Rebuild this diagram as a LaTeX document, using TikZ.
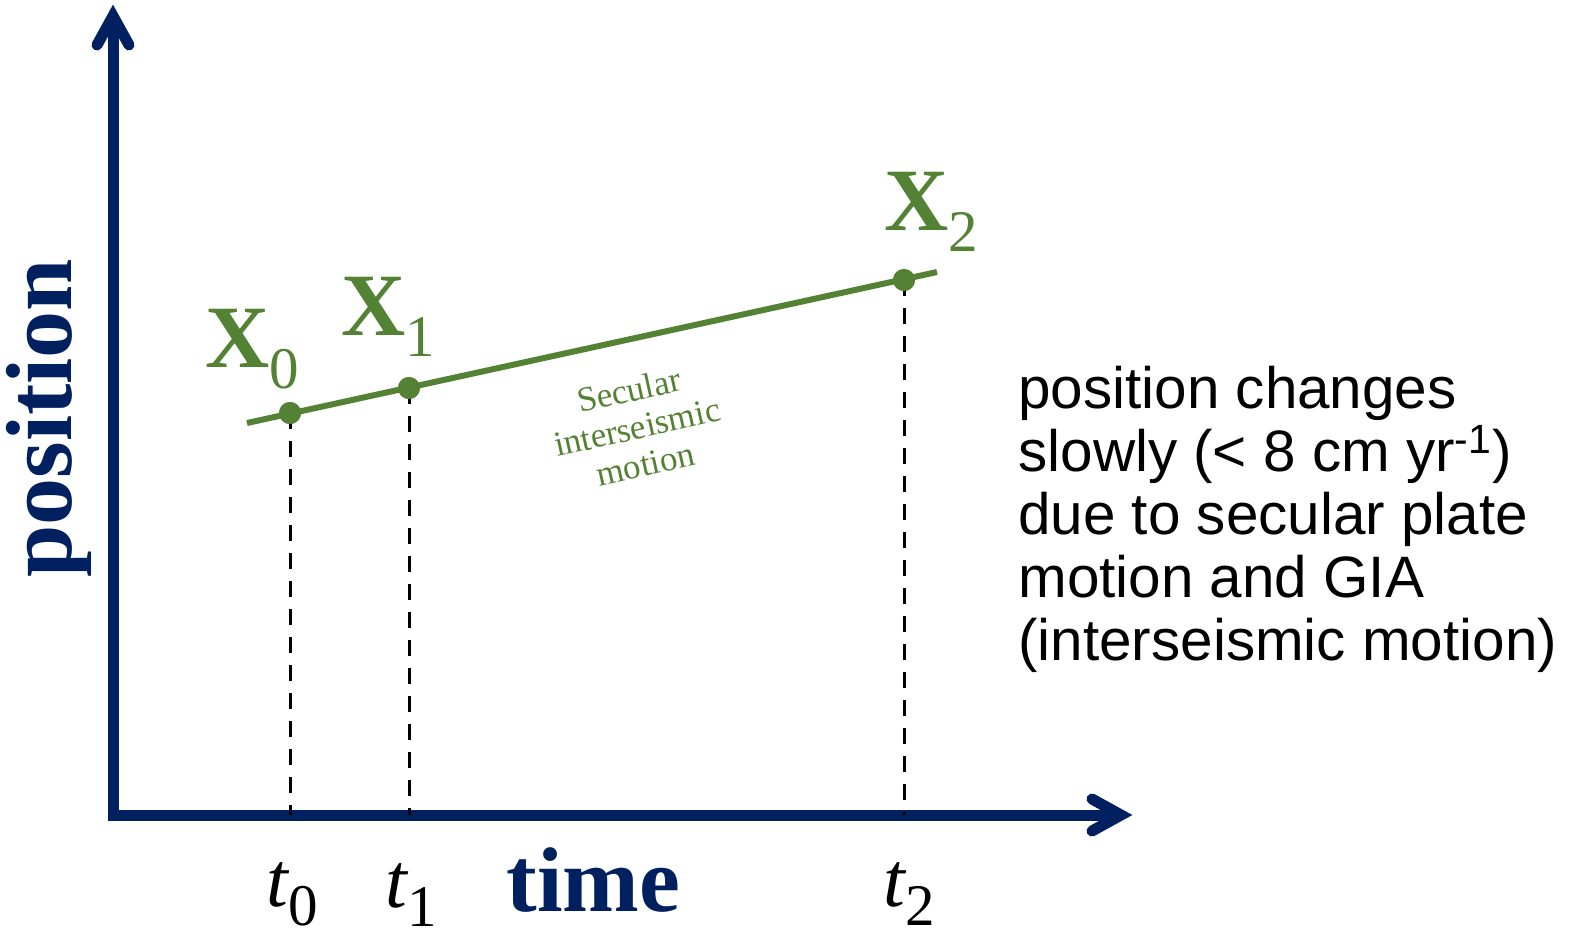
\documentclass[tikz,border=0pt]{standalone}
\usepackage{fontspec}
\setmainfont{Liberation Serif}
\newfontfamily\arialf{Liberation Sans}
\usetikzlibrary{calc}
\definecolor{navy}{HTML}{002060}
\definecolor{leaf}{HTML}{548235}
\newcommand\xlab[1]{{\fontsize{44.5pt}{50pt}\selectfont\bfseries X}\raisebox{-10.5pt}{\fontsize{29.5pt}{32pt}\selectfont #1}}
\newcommand\tlab[1]{{\fontsize{39pt}{44pt}\selectfont\itshape t}\raisebox{-9.5pt}{\fontsize{29.5pt}{32pt}\selectfont #1}}
\begin{document}
\begin{tikzpicture}[x=0.5pt,y=-0.5pt,
  axisline/.style={draw=navy,line width=5.5pt,line join=miter},
  tipline/.style={draw=navy,line width=5.5pt,line cap=round,line join=miter},
  guide/.style={draw=black,line width=1.5pt,dash pattern=on 8pt off 6pt},
  trend/.style={draw=leaf,line width=3pt},
  dot/.style={circle,fill=leaf,inner sep=0pt,minimum size=11pt},
  lab/.style={inner sep=0pt,anchor=base west},
  bignavy/.style={inner sep=0pt,text=navy,font=\fontsize{46pt}{50pt}\selectfont\bfseries}]
\useasboundingbox (0,0) rectangle (1571,933);
% axes
\coordinate (O) at (113,815);
\coordinate (ytip) at (113,16);
\coordinate (xtip) at (1121,815);
\draw[axisline] (ytip) -- (O) -- (xtip);
\draw[tipline] ($(ytip)+(-16,29)$) -- (ytip) -- ($(ytip)+(16,29)$);
\draw[tipline] ($(xtip)+(-29,-16)$) -- (xtip) -- ($(xtip)+(-29,16)$);
% trend line and points
\coordinate (gA) at (247,423);
\coordinate (gB) at (937,272);
\node[dot] (p0) at (290,413) {};
\node[dot] (p1) at (409,388) {};
\node[dot] (p2) at (904,280) {};
\draw[guide] (p0.center) -- (p0.center |- O);
\draw[guide] (p1.center) -- (p1.center |- O);
\draw[guide] (p2.center) -- (p2.center |- O);
\draw[trend] (gA) -- (gB);
\node[dot] at (p0) {};
\node[dot] at (p1) {};
\node[dot] at (p2) {};
% point labels
\node[lab,text=leaf] (X0) at (205,367) {\xlab{0}};
\node[lab,text=leaf] (X1) at (341,335) {\xlab{1}};
\node[lab,text=leaf] (X2) at (884,230) {\xlab{2}};
% time labels
\node[lab] (t0) at (266,906) {\tlab{0}};
\node[lab] (t1) at (385,907) {\tlab{1}};
\node[lab] (t2) at (883,906) {\tlab{2}};
% axis titles
\node[bignavy,anchor=base west] (time) at (506,911) {time};
\node[bignavy,anchor=base west,rotate=90,font=\fontsize{47pt}{50pt}\selectfont\bfseries] (pos) at (71,578) {position};
% slope label
\node[rotate=12.5,text=leaf,align=center,inner sep=0pt,font=\fontsize{17.5pt}{19pt}\selectfont] (sec) at (637,427) {Secular\\interseismic\\motion};
% explanation
\node[anchor=north west,align=left,inner sep=0pt,font=\arialf\fontsize{29.2pt}{31.5pt}\selectfont] (expl) at (1018,366)
 {position changes\\slowly (< 8 cm yr\textsuperscript{-1})\\due to secular plate\\motion and GIA\\(interseismic motion)};
\end{tikzpicture}
\end{document}
